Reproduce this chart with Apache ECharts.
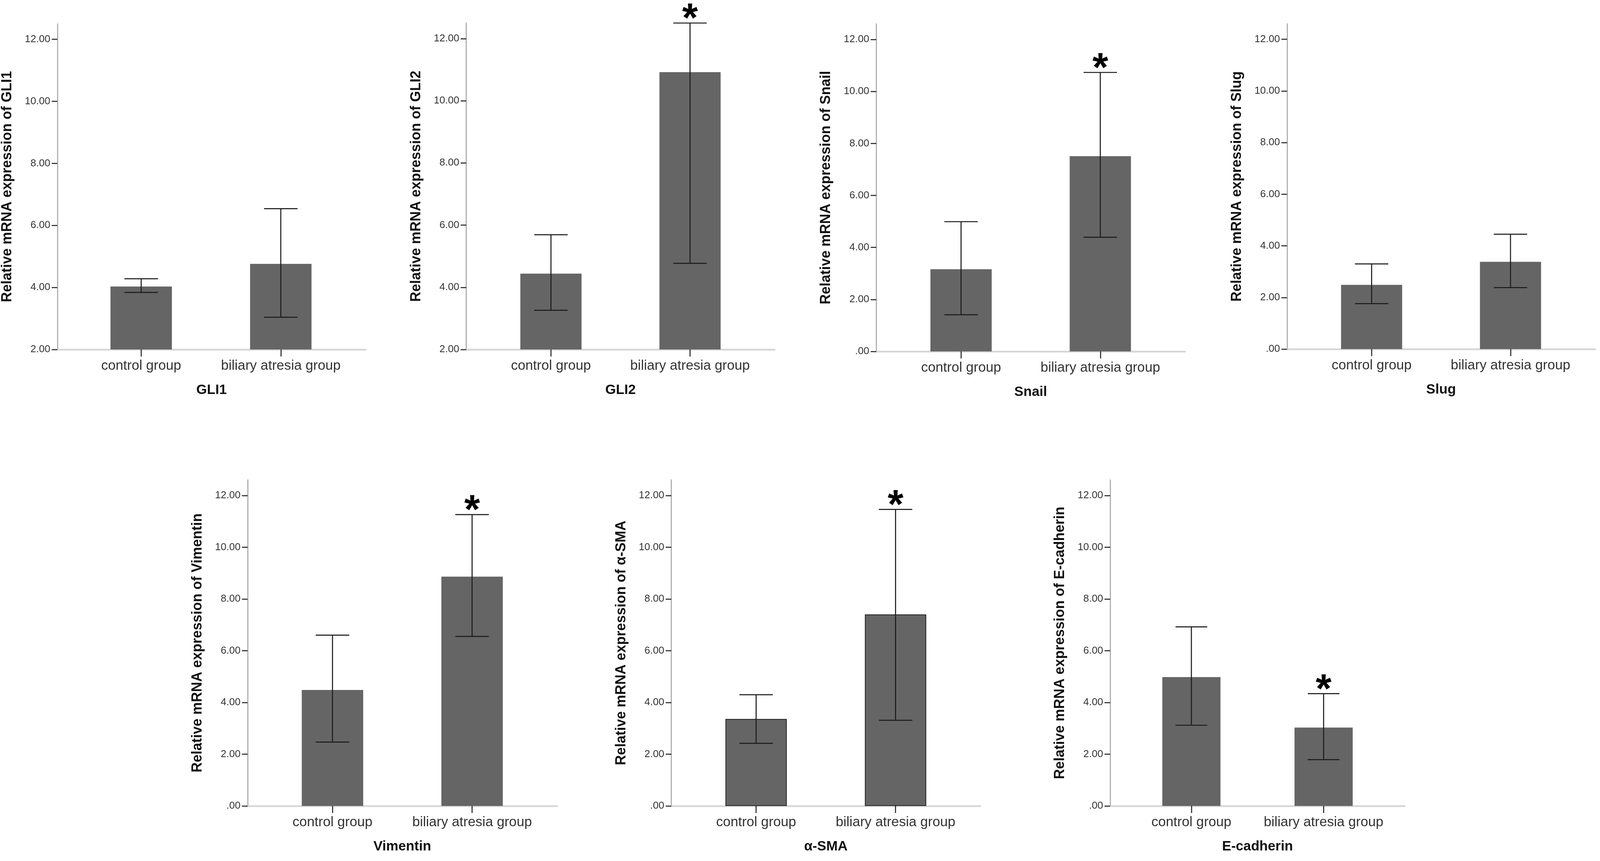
<!DOCTYPE html>
<html>
<head>
<meta charset="utf-8">
<title>Relative mRNA expression</title>
<script src="https://cdn.jsdelivr.net/npm/echarts@6/dist/echarts.min.js"></script>
<style>
html, body { margin: 0; padding: 0; background: #fff; overflow: hidden; }
#chart { width: 100vw; height: 100vh; }
</style>
</head>
<body>
<div id="chart"></div>
<script>
// one panel per gene
var genes = ['GLI1', 'GLI2', 'Snail', 'Slug', 'Vimentin', 'α-SMA', 'E-cadherin'];
var groups = ['control group', 'biliary atresia group'];

// bar heights (means)
var controlMean = [4.03, 4.44, 3.16, 2.49, 4.48, 3.36, 4.98];
var atresiaMean = [4.76, 10.92, 7.51, 3.38, 8.86, 7.40, 3.03];

// error bar ends
var controlLow  = [3.84, 3.26, 1.41, 1.76, 2.47, 2.42, 3.12];
var controlHigh = [4.28, 5.69, 4.99, 3.30, 6.60, 4.30, 6.92];
var atresiaLow  = [3.04, 4.77, 4.39, 2.38, 6.55, 3.31, 1.79];
var atresiaHigh = [6.54, 12.50, 10.73, 4.45, 11.26, 11.46, 4.34];

// star over the biliary atresia bar
var significant = [false, true, true, false, true, true, true];

// y axis ranges and tick labels
var yMin = [2, 2, 0, 0, 0, 0, 0];
var yMax = [12.5, 12.5, 12.6, 12.6, 12.6, 12.6, 12.6];
var ticksFromTwo = [2, 4, 6, 8, 10, 12];
var ticksFromZero = [0, 2, 4, 6, 8, 10, 12];

// panel placement, in px of a 4550 x 2205 page
var panelLeft   = [160, 1326, 2492, 3660, 704, 1909, 3157];
var panelRight  = [1040, 2203, 3370, 4536, 1584, 2788, 3995];
var panelTop    = [61, 59, 61, 61, 1229, 1229, 1229];
var panelBottom = [895, 895, 900, 894, 2064, 2064, 2064];
var outlined    = [false, false, false, false, false, true, false];
var sidePad = 43;

var FONT = 'Arial, "Liberation Sans", sans-serif';
var chart = echarts.init(document.getElementById('chart'));

// the page may be narrower than 4550 px, so scale everything to it
var sx = chart.getWidth() / 4550;
var sy = chart.getHeight() / 2205;
var s = Math.min(sx, sy);

function tickLabel(v) {
    return v === 0 ? '.00' : v.toFixed(2);
}

function renderErrorBar(params, api) {
    var x = api.value(0);
    var lo = api.coord([x, api.value(1)]);
    var hi = api.coord([x, api.value(2)]);
    var half = api.size([1, 0])[0] * 0.12;
    var style = { stroke: '#1e1e1e', lineWidth: 3 * s };
    var children = [
        { type: 'line', shape: { x1: hi[0], y1: hi[1], x2: lo[0], y2: lo[1] }, style: style },
        { type: 'line', shape: { x1: hi[0] - half, y1: hi[1], x2: hi[0] + half, y2: hi[1] }, style: style },
        { type: 'line', shape: { x1: lo[0] - half, y1: lo[1], x2: lo[0] + half, y2: lo[1] }, style: style }
    ];
    if (api.value(3)) {
        children.push({
            type: 'text', x: hi[0], y: hi[1] - 7 * s,
            style: { text: '*', fontSize: 115 * s, fontWeight: 'bold', fontFamily: FONT, fill: '#000', align: 'center', verticalAlign: 'middle' }
        });
    }
    return { type: 'group', children: children };
}

var grids = [], xAxes = [], yAxes = [], series = [];

genes.forEach(function (gene, i) {
    var outer = i * 2, inner = i * 2 + 1;
    var left = panelLeft[i] * sx, width = (panelRight[i] - panelLeft[i]) * sx;
    var top = panelTop[i] * sy, height = (panelBottom[i] - panelTop[i]) * sy;
    var ticks = yMin[i] === 0 ? ticksFromZero : ticksFromTwo;

    grids.push({ left: left, top: top, width: width, height: height });
    grids.push({ left: left + sidePad * sx, top: top, width: width - 2 * sidePad * sx, height: height });

    // outer x axis: only the long baseline and the gene name
    xAxes.push({
        gridIndex: outer, type: 'value', min: 0, max: 1,
        axisLine: { show: true, onZero: false, lineStyle: { color: '#d6d6d6', width: 5 * s } },
        axisTick: { show: false }, axisLabel: { show: false }, splitLine: { show: false },
        name: gene, nameLocation: 'middle', nameGap: 96 * s,
        nameTextStyle: { fontSize: 39 * s, fontWeight: 'bold', color: '#111', fontFamily: FONT }
    });
    // inner x axis: the two groups
    xAxes.push({
        gridIndex: inner, type: 'category', data: groups,
        axisLine: { show: false },
        axisTick: { show: true, alignWithLabel: true, length: 20 * s, lineStyle: { color: '#2a2a2a', width: 3 * s } },
        axisLabel: { interval: 0, fontSize: 39 * s, color: '#333', margin: 28 * s, fontFamily: FONT }
    });
    yAxes.push({
        gridIndex: outer, type: 'value', min: yMin[i], max: yMax[i],
        axisLine: { show: true, onZero: false, lineStyle: { color: '#a8a8a8', width: 3 * s } },
        axisTick: { show: true, length: 16 * s, customValues: ticks, lineStyle: { color: '#2a2a2a', width: 3 * s } },
        axisLabel: { customValues: ticks, formatter: tickLabel, fontSize: 29 * s, color: '#333', margin: 20 * s, fontFamily: FONT },
        splitLine: { show: false },
        name: 'Relative mRNA expression of ' + gene, nameLocation: 'middle', nameGap: 122 * s,
        nameTextStyle: { fontSize: 40 * s, fontWeight: 'bold', color: '#111', fontFamily: FONT }
    });
    yAxes.push({ gridIndex: inner, type: 'value', min: yMin[i], max: yMax[i], show: false });

    series.push({
        type: 'bar', xAxisIndex: inner, yAxisIndex: inner, silent: true,
        data: [controlMean[i], atresiaMean[i]], barWidth: '44%',
        itemStyle: { color: '#656565', borderColor: outlined[i] ? '#1a1a1a' : '#656565', borderWidth: outlined[i] ? 2 * s : 0 }
    });
    series.push({
        type: 'custom', xAxisIndex: inner, yAxisIndex: inner, silent: true, z: 3,
        renderItem: renderErrorBar,
        data: [
            [0, controlLow[i], controlHigh[i], 0],
            [1, atresiaLow[i], atresiaHigh[i], significant[i] ? 1 : 0]
        ]
    });
});

chart.setOption({
    animation: false,
    backgroundColor: '#fff',
    grid: grids,
    xAxis: xAxes,
    yAxis: yAxes,
    series: series
});
</script>
</body>
</html>
